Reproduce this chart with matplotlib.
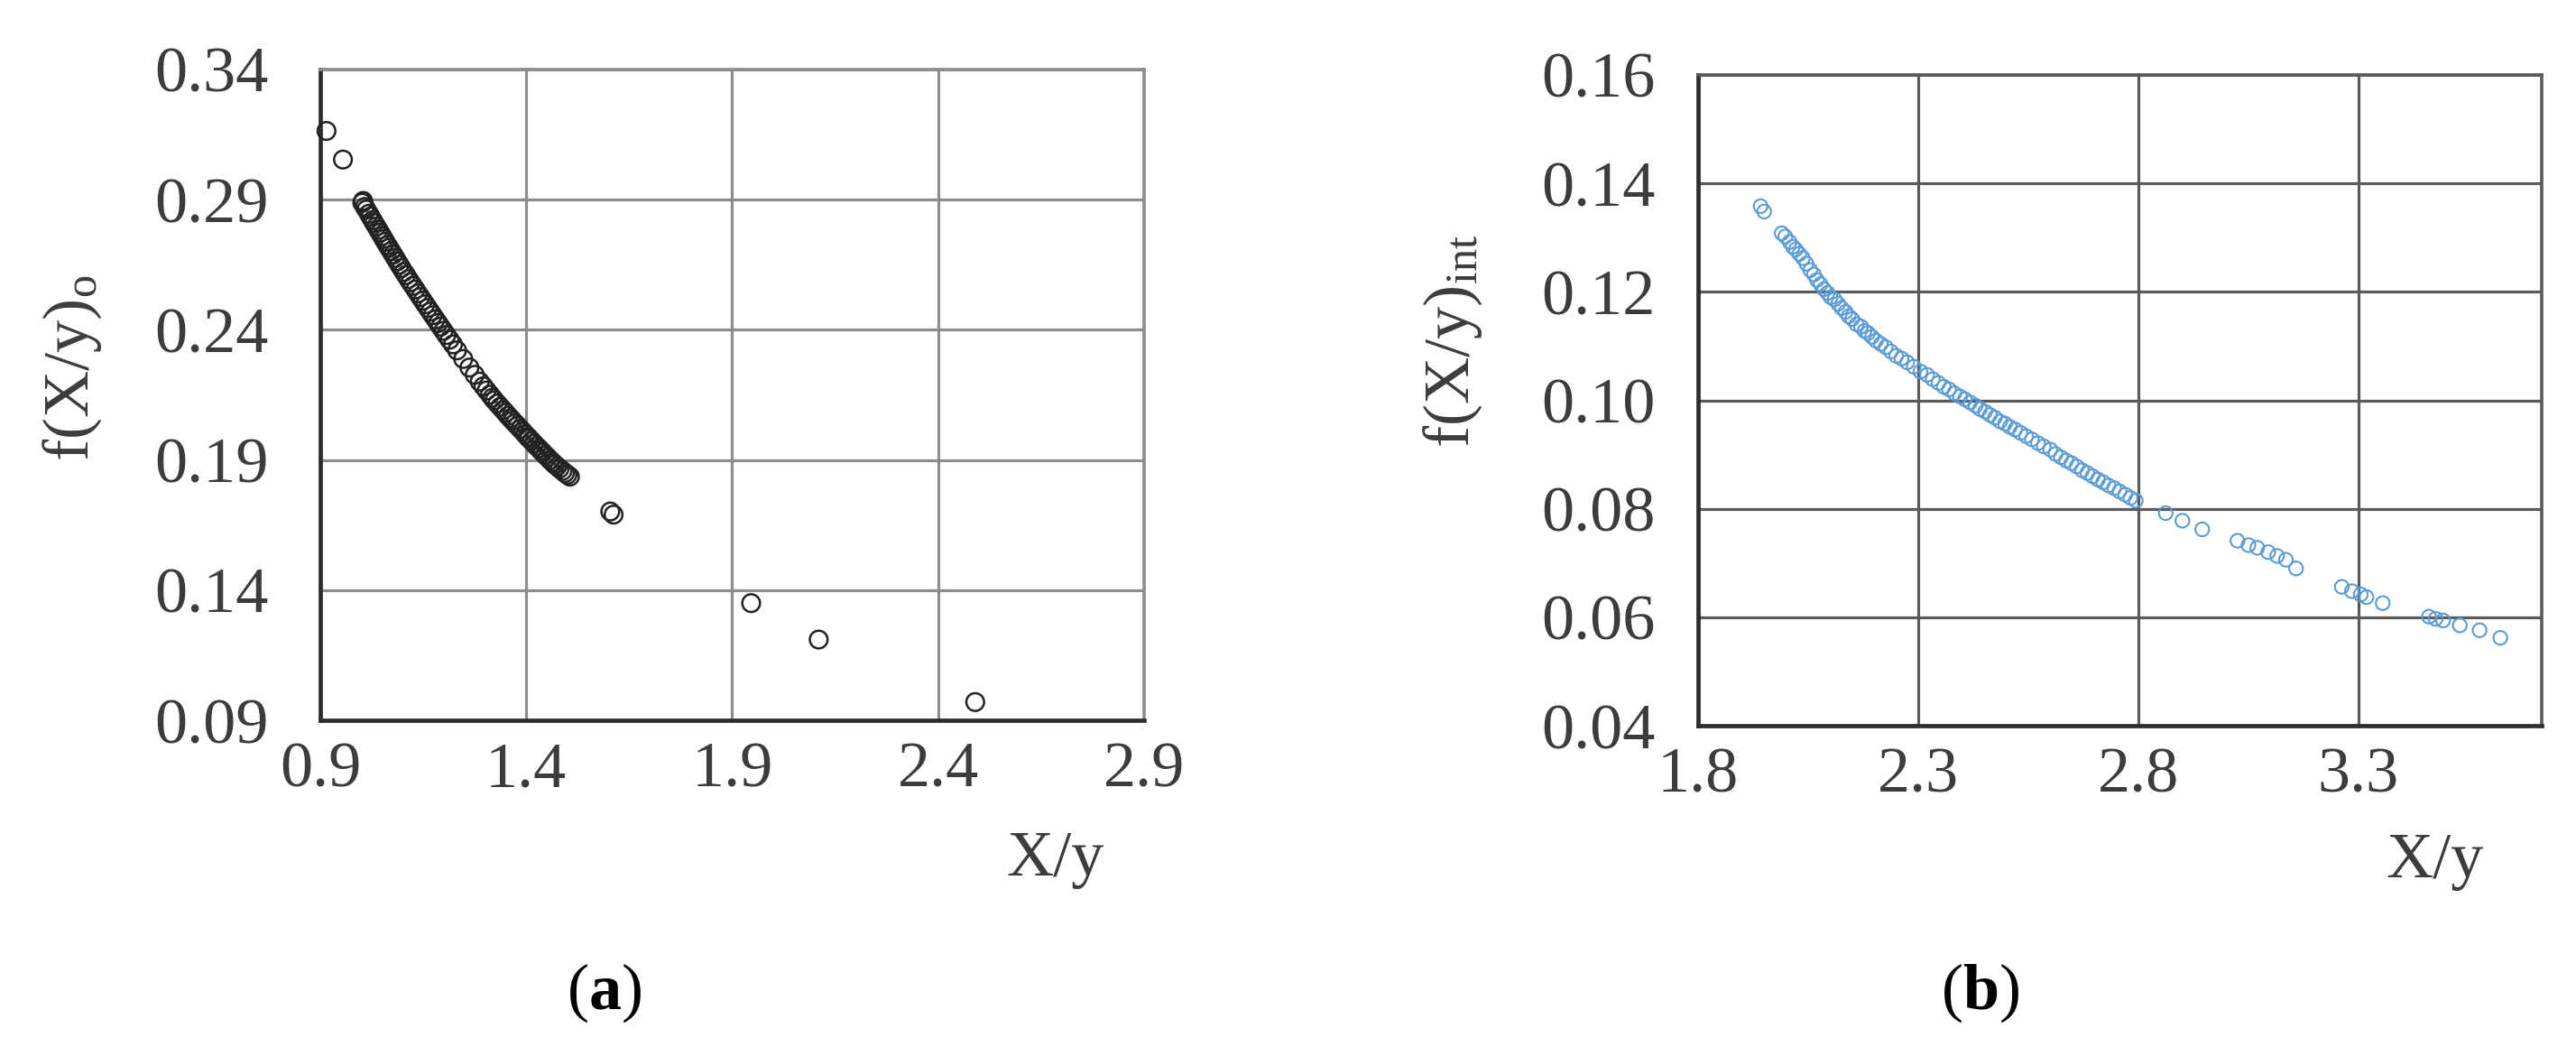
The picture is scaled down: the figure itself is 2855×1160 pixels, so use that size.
import matplotlib
matplotlib.use('Agg')
import matplotlib.pyplot as plt

# --- data ---
# (a) f(X/y)_o against X/y
xa = [0.915, 0.955, 1.004,
      1.002, 1.008, 1.012, 1.018, 1.022, 1.027, 1.031, 1.036, 1.041, 1.045,
      1.050, 1.054, 1.058, 1.063, 1.067, 1.072, 1.077, 1.082, 1.087, 1.092,
      1.097, 1.103, 1.108, 1.114, 1.119, 1.125, 1.131, 1.137, 1.143, 1.149,
      1.155, 1.161, 1.167, 1.173, 1.180, 1.186, 1.192, 1.199, 1.206, 1.214,
      1.222, 1.232, 1.247, 1.262, 1.275, 1.287, 1.296, 1.304, 1.312, 1.318,
      1.323, 1.330, 1.337, 1.344, 1.350, 1.356, 1.362, 1.367, 1.373, 1.379,
      1.386, 1.392, 1.398, 1.404, 1.407, 1.413, 1.419, 1.425, 1.431, 1.436,
      1.440, 1.446, 1.452, 1.458, 1.464, 1.469, 1.475, 1.481, 1.488, 1.494,
      1.500, 1.506,
      1.604, 1.612, 1.946, 2.110, 2.490]
ya = [0.3164, 0.3054, 0.2895,
      0.2888, 0.2872, 0.2862, 0.2846, 0.2835, 0.2821, 0.2810, 0.2797, 0.2784, 0.2773,
      0.2760, 0.2749, 0.2738, 0.2725, 0.2715, 0.2702, 0.2689, 0.2676, 0.2663, 0.2650,
      0.2637, 0.2622, 0.2610, 0.2595, 0.2583, 0.2569, 0.2555, 0.2540, 0.2526, 0.2512,
      0.2498, 0.2484, 0.2470, 0.2456, 0.2440, 0.2426, 0.2412, 0.2396, 0.2380, 0.2362,
      0.2344, 0.2321, 0.2288, 0.2255, 0.2227, 0.2201, 0.2183, 0.2167, 0.2151, 0.2139,
      0.2129, 0.2117, 0.2104, 0.2092, 0.2081, 0.2070, 0.2060, 0.2051, 0.2041, 0.2031,
      0.2019, 0.2009, 0.1998, 0.1988, 0.1983, 0.1973, 0.1963, 0.1953, 0.1944, 0.1935,
      0.1929, 0.1919, 0.1910, 0.1900, 0.1891, 0.1883, 0.1875, 0.1867, 0.1858, 0.1850,
      0.1843, 0.1836,
      0.1702, 0.1690, 0.1350, 0.1210, 0.0970]

# (b) f(X/y)_int against X/y
xb = [1.942, 1.950, 1.990, 1.998, 2.008, 2.015, 2.022, 2.030, 2.038, 2.046,
      2.055, 2.063, 2.070, 2.078, 2.086, 2.094, 2.101, 2.110, 2.118, 2.126,
      2.135, 2.142, 2.150, 2.160, 2.170, 2.178, 2.186, 2.195, 2.204, 2.215,
      2.226, 2.238, 2.250, 2.262, 2.275, 2.290, 2.305, 2.320, 2.333, 2.346,
      2.358, 2.370, 2.382, 2.395, 2.406, 2.418, 2.430, 2.440, 2.452, 2.463,
      2.474, 2.486, 2.497, 2.508, 2.520, 2.532, 2.545, 2.558, 2.572, 2.585,
      2.600, 2.612, 2.624, 2.636, 2.648, 2.660, 2.672, 2.684, 2.696, 2.708,
      2.720, 2.732, 2.745, 2.757, 2.770, 2.782, 2.794,
      2.862, 2.900, 2.945, 3.025, 3.050, 3.070, 3.095, 3.115, 3.135, 3.158,
      3.262, 3.285, 3.305, 3.318, 3.355, 3.460, 3.475, 3.492, 3.530, 3.575, 3.622]
yb = [0.1358, 0.1348, 0.1308, 0.1302, 0.1292, 0.1283, 0.1278, 0.1270, 0.1262, 0.1252,
      0.1240, 0.1232, 0.1222, 0.1214, 0.1205, 0.1198, 0.1190, 0.1186, 0.1178, 0.1170,
      0.1163, 0.1155, 0.1150, 0.1140, 0.1136, 0.1128, 0.1124, 0.1117, 0.1110, 0.1104,
      0.1098, 0.1090, 0.1082, 0.1077, 0.1070, 0.1062, 0.1053, 0.1047, 0.1039, 0.1032,
      0.1025, 0.1020, 0.1013, 0.1007, 0.1002, 0.0996, 0.0990, 0.0984, 0.0979, 0.0973,
      0.0968, 0.0961, 0.0957, 0.0951, 0.0946, 0.0940, 0.0934, 0.0928, 0.0921, 0.0915,
      0.0909, 0.0901, 0.0895, 0.0889, 0.0884, 0.0878, 0.0871, 0.0866, 0.0860, 0.0854,
      0.0849, 0.0843, 0.0838, 0.0832, 0.0826, 0.0820, 0.0815,
      0.0792, 0.0778, 0.0762, 0.0741, 0.0733, 0.0728, 0.0720, 0.0713, 0.0706, 0.0690,
      0.0656, 0.0648, 0.0642, 0.0637, 0.0626, 0.0601, 0.0597, 0.0594, 0.0585, 0.0576, 0.0562]

xticks_a = [0.9, 1.4, 1.9, 2.4, 2.9]
yticks_a = [0.09, 0.14, 0.19, 0.24, 0.29, 0.34]
xticks_b = [1.8, 2.3, 2.8, 3.3]
yticks_b = [0.04, 0.06, 0.08, 0.10, 0.12, 0.14, 0.16]

# --- style ---
plt.rcParams['font.family'] = ['Liberation Serif', 'DejaVu Serif']
plt.rcParams['mathtext.fontset'] = 'custom'
plt.rcParams['mathtext.rm'] = 'Liberation Serif'
plt.rcParams['mathtext.it'] = 'Liberation Serif:italic'
plt.rcParams['mathtext.bf'] = 'Liberation Serif:bold'

W, H = 2855, 1160
fig = plt.figure(figsize=(W / 100, H / 100), dpi=100)

txt_col = '#3c3c3c'
fs = 52


def setup(ax, xlim, ylim, xt, yt, xfmt, yfmt, grid_col, ypad):
    ax.set_xlim(*xlim)
    ax.set_ylim(*ylim)
    ax.set_xticks(xt)
    ax.set_yticks(yt)
    ax.set_xticklabels([xfmt.format(v) for v in xt])
    ax.set_yticklabels([yfmt.format(v) for v in yt])
    ax.grid(True, color=grid_col, lw=2.3, zorder=0)
    ax.set_axisbelow(True)
    ax.tick_params(length=0, labelsize=fs, labelcolor=txt_col)
    ax.tick_params(axis='x', pad=17)
    ax.tick_params(axis='y', pad=ypad)
    for s in ['left', 'bottom']:
        ax.spines[s].set_color('#2e2e2e')
        ax.spines[s].set_linewidth(3.4)
    for s in ['top', 'right']:
        ax.spines[s].set_color(grid_col)
        ax.spines[s].set_linewidth(2.6)


# panel (a)
ax1 = fig.add_axes([355 / W, 1 - 798 / H, (1268 - 355) / W, (798 - 77) / H])
setup(ax1, (0.9, 2.9), (0.09, 0.34), xticks_a, yticks_a, '{:.1f}', '{:.2f}', '#8c8c8c', 41)
ax1.scatter(xa, ya, s=200, facecolors='none', edgecolors='#222222', linewidths=1.8,
            zorder=3, clip_on=False)

# panel (b)
ax2 = fig.add_axes([1882 / W, 1 - 804 / H, (2817 - 1882) / W, (804 - 83) / H])
setup(ax2, (1.8, 3.716), (0.04, 0.16), xticks_b, yticks_b, '{:.1f}', '{:.2f}', '#5a5a5a', 34)
ax2.scatter(xb, yb, s=120, facecolors='none', edgecolors='#5b9bd5', linewidths=1.5,
            zorder=3, clip_on=False)

# axis titles
fig.text(1170 / W, 1 - 970 / H, 'X/y', fontsize=fs, color=txt_col, ha='center', va='baseline')
fig.text(2699 / W, 1 - 972 / H, 'X/y', fontsize=fs, color=txt_col, ha='center', va='baseline')
fig.text(80 / W, 1 - 408 / H, r'$\mathrm{f(X/y)_o}$', fontsize=fs, color=txt_col,
         rotation=90, ha='center', va='center')
fig.text(1610 / W, 1 - 378 / H, r'$\mathrm{f(X/y)_{int}}$', fontsize=fs, color=txt_col,
         rotation=90, ha='center', va='center')

# panel letters
fig.text(670 / W, 1 - 1100 / H, r'($\mathbf{a}$)', fontsize=fs, color='black',
         ha='center', va='center')
fig.text(2195 / W, 1 - 1100 / H, r'($\mathbf{b}$)', fontsize=fs, color='black',
         ha='center', va='center')

fig.savefig('out.png', dpi=100, facecolor='white')
